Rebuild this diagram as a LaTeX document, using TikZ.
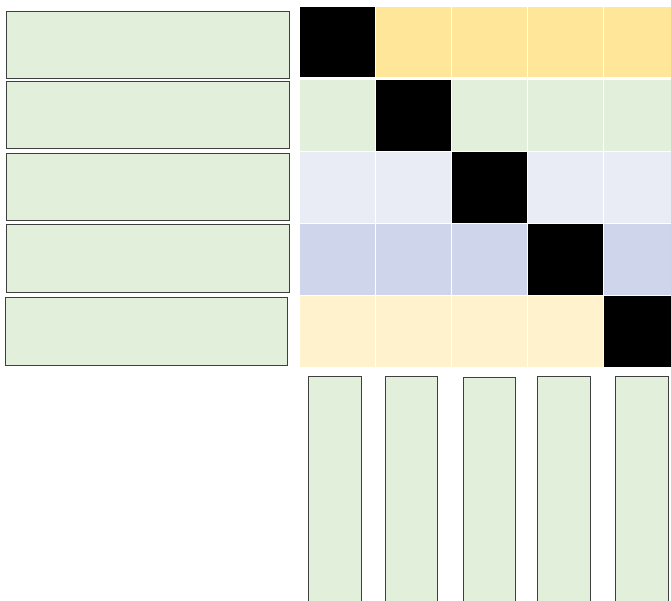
\documentclass[tikz,border=0pt]{standalone}
\definecolor{boxgreen}{HTML}{E2EFDA}
\definecolor{rowyellow}{HTML}{FFE699}
\definecolor{rowlav}{HTML}{E9ECF5}
\definecolor{rowblue}{HTML}{CFD5EA}
\definecolor{rowcream}{HTML}{FFF2CC}
\definecolor{edgegray}{HTML}{3F3F3F}
\begin{document}
\begin{tikzpicture}[x=1pt,y=-1pt,
  box/.style={draw=edgegray,fill=boxgreen,line width=1pt,inner sep=0pt,outer sep=0pt,anchor=north west},
  cell/.style={draw=white,line width=0.9pt,inner sep=0pt,outer sep=0pt,anchor=north west,minimum width=76pt,minimum height=72pt},
  diag/.style={cell,fill=black}]
\useasboundingbox (0,0) rectangle (671,601);
\clip (0,0) rectangle (671,601);
\fill[white] (0,0) rectangle (671,601);
% left boxes
\node[box,minimum width=283pt,minimum height=67pt] (l1) at (6,12) {};
\node[box,minimum width=283pt,minimum height=67pt] (l2) at (6,82) {};
\node[box,minimum width=283pt,minimum height=67pt] (l3) at (6,154) {};
\node[box,minimum width=283pt,minimum height=67pt] (l4) at (6,225) {};
\node[box,minimum width=282pt,minimum height=68pt] (l5) at (5,297) {};
% grid rows
\foreach \c/\x in {1/299,2/375,3/451,4/527,5/603}{
  \node[cell,fill=rowyellow,minimum height=71pt] (r1c\c) at (\x,6) {};
  \node[cell,fill=boxgreen] (r2c\c) at (\x,79) {};
  \node[cell,fill=rowlav] (r3c\c) at (\x,151) {};
  \node[cell,fill=rowblue] (r4c\c) at (\x,223) {};
  \node[cell,fill=rowcream] (r5c\c) at (\x,295) {};
}
\node[diag,minimum height=71pt] (d1) at (299,6) {};
\node[diag] (d2) at (375,79) {};
\node[diag] (d3) at (451,151) {};
\node[diag] (d4) at (527,223) {};
\node[diag] (d5) at (603,295) {};
% bottom bars
\node[box,minimum width=53pt,minimum height=240pt] (b1) at (308,376) {};
\node[box,minimum width=52pt,minimum height=240pt] (b2) at (385,376) {};
\node[box,minimum width=52pt,minimum height=240pt] (b3) at (463,377) {};
\node[box,minimum width=53pt,minimum height=240pt] (b4) at (537,376) {};
\node[box,minimum width=53pt,minimum height=240pt] (b5) at (615,376) {};
\end{tikzpicture}
\end{document}
